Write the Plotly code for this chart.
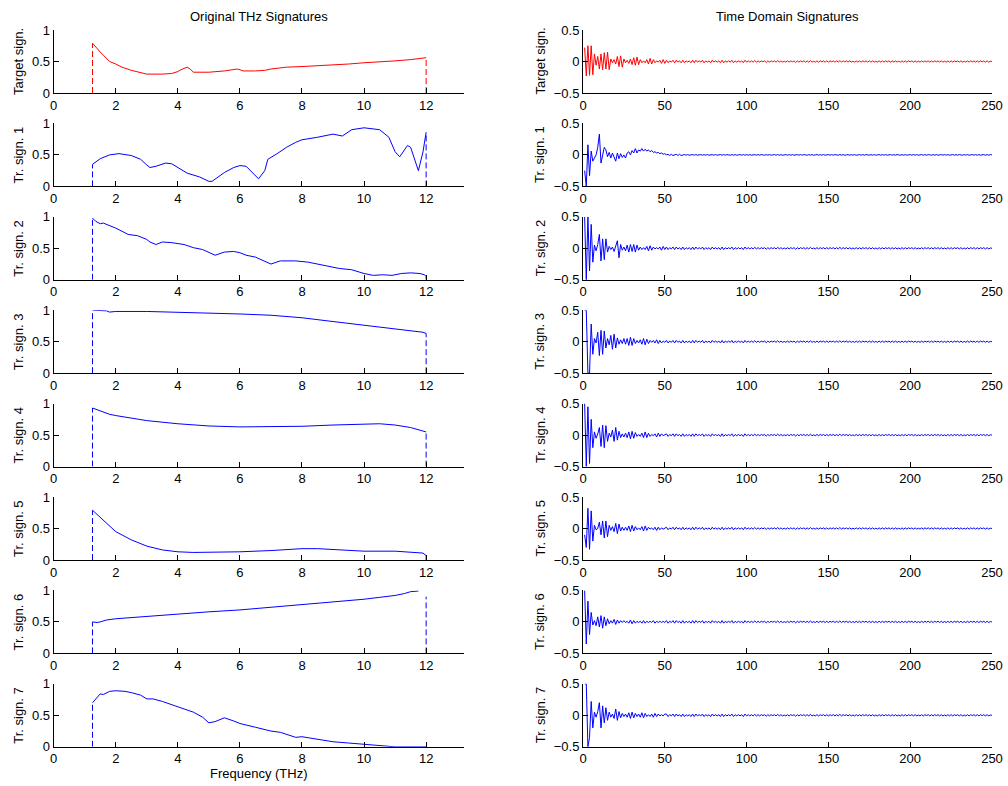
import plotly.graph_objects as go

FONT = "Liberation Sans, Arial, Helvetica, sans-serif"
W, H = 1008, 786

ROW_LABELS = ["Target sign.", "Tr. sign. 1", "Tr. sign. 2", "Tr. sign. 3",
              "Tr. sign. 4", "Tr. sign. 5", "Tr. sign. 6", "Tr. sign. 7"]
COLORS = ["#ff0000"] + ["#0000ff"] * 7

# ---------------- frequency-domain signatures (THz, normalised) ----------------
F0_X = [1.25, 1.4, 1.5, 1.6, 1.8, 2.0, 2.2, 2.5, 2.8, 3.0, 3.5, 3.8, 4.0, 4.1, 4.3, 4.4, 4.5, 4.7, 5.0,
        5.5, 5.9, 6.0, 6.1, 6.5, 6.8, 7.0, 7.5, 8.0, 8.5, 9.0, 9.5, 10.0, 10.5, 11.0, 11.5, 11.8, 12.0]
F0_Y = [0.79, 0.70, 0.65, 0.60, 0.50, 0.46, 0.41, 0.36, 0.32, 0.30, 0.30, 0.31, 0.34, 0.37, 0.41, 0.38, 0.33, 0.33, 0.33,
        0.35, 0.38, 0.37, 0.35, 0.35, 0.36, 0.38, 0.41, 0.42, 0.43, 0.45, 0.46, 0.48, 0.49, 0.51, 0.53, 0.55, 0.56]

F1_X = [1.25, 1.5, 1.8, 2.1, 2.5, 2.8, 3.0, 3.1, 3.3, 3.6, 3.8, 4.0, 4.3, 4.7, 5.0, 5.1, 5.5, 5.8, 6.0, 6.2,
        6.4, 6.6, 6.8, 6.9, 7.2, 7.5, 7.8, 8.0, 8.5, 9.0, 9.3, 9.6, 10.0, 10.5, 10.8, 11.0, 11.15, 11.4, 11.5,
        11.7, 11.75, 11.9, 12.0]
F1_Y = [0.35, 0.44, 0.50, 0.52, 0.49, 0.43, 0.34, 0.30, 0.32, 0.37, 0.36, 0.30, 0.21, 0.15, 0.08, 0.08, 0.22, 0.30, 0.33, 0.32,
        0.22, 0.12, 0.25, 0.43, 0.52, 0.62, 0.70, 0.74, 0.78, 0.83, 0.80, 0.90, 0.93, 0.90, 0.78, 0.55, 0.47, 0.65, 0.62,
        0.30, 0.25, 0.55, 0.86]

F2_X = [1.25, 1.35, 1.5, 1.6, 2.0, 2.4, 2.7, 3.0, 3.1, 3.3, 3.5, 3.8, 4.2, 4.5, 4.8, 5.0, 5.2, 5.5, 5.8, 6.0,
        6.2, 6.5, 6.8, 7.0, 7.3, 7.8, 8.2, 8.8, 9.2, 9.6, 10.0, 10.3, 10.6, 10.9, 11.2, 11.5, 11.8, 11.95, 12.0]
F2_Y = [0.98, 0.93, 0.89, 0.90, 0.82, 0.72, 0.70, 0.64, 0.60, 0.56, 0.60, 0.59, 0.56, 0.51, 0.48, 0.44, 0.39, 0.44, 0.45, 0.43,
        0.39, 0.36, 0.30, 0.25, 0.30, 0.30, 0.28, 0.22, 0.18, 0.16, 0.10, 0.07, 0.08, 0.07, 0.10, 0.11, 0.10, 0.08, 0.05]

F3_X = [1.25, 1.5, 1.7, 1.8, 2.0, 3.0, 4.0, 5.0, 6.0, 7.0, 8.0, 9.0, 10.0, 11.0, 11.5, 11.9, 12.0]
F3_Y = [1.00, 1.00, 0.99, 0.97, 0.98, 0.98, 0.97, 0.96, 0.94, 0.92, 0.88, 0.82, 0.76, 0.70, 0.67, 0.65, 0.63]

F4_X = [1.25, 1.5, 1.8, 2.0, 3.0, 4.0, 5.0, 6.0, 7.0, 8.0, 9.0, 10.0, 10.5, 11.0, 11.5, 12.0]
F4_Y = [0.93, 0.88, 0.83, 0.81, 0.73, 0.68, 0.645, 0.63, 0.63, 0.64, 0.66, 0.68, 0.68, 0.66, 0.62, 0.55]

F5_X = [1.25, 1.5, 1.8, 2.0, 2.5, 3.0, 3.5, 4.0, 4.5, 5.0, 6.0, 7.0, 8.0, 8.5, 9.0, 10.0, 11.0, 11.5, 11.9, 12.0]
F5_Y = [0.79, 0.68, 0.54, 0.45, 0.32, 0.22, 0.16, 0.13, 0.12, 0.12, 0.13, 0.15, 0.18, 0.18, 0.17, 0.14, 0.14, 0.12, 0.11, 0.07]

F6_X = [1.25, 1.4, 1.5, 1.7, 2.0, 3.0, 4.0, 5.0, 6.0, 7.0, 8.0, 9.0, 10.0, 10.5, 11.0, 11.3, 11.5, 11.75]
F6_Y = [0.50, 0.49, 0.50, 0.53, 0.55, 0.59, 0.63, 0.66, 0.69, 0.73, 0.77, 0.81, 0.86, 0.89, 0.92, 0.95, 0.98, 0.99]

F7_X = [1.25, 1.4, 1.5, 1.6, 1.8, 2.0, 2.3, 2.5, 2.8, 3.0, 3.2, 3.5, 4.0, 4.5, 4.8, 5.0, 5.2, 5.5, 5.8, 6.0,
        6.5, 7.0, 7.3, 7.5, 7.8, 8.0, 8.5, 9.0, 9.5, 10.0, 10.5, 11.0, 11.5, 12.0]
F7_Y = [0.70, 0.78, 0.84, 0.83, 0.88, 0.89, 0.88, 0.86, 0.82, 0.76, 0.76, 0.72, 0.64, 0.55, 0.47, 0.38, 0.40, 0.46, 0.41, 0.37,
        0.31, 0.25, 0.23, 0.20, 0.15, 0.16, 0.12, 0.08, 0.06, 0.04, 0.02, 0.00, 0.00, 0.00]

FREQ_SERIES = [(F0_X, F0_Y), (F1_X, F1_Y), (F2_X, F2_Y), (F3_X, F3_Y),
               (F4_X, F4_Y), (F5_X, F5_Y), (F6_X, F6_Y), (F7_X, F7_Y)]

# band limits (dashed markers) and their heights
BAND_LO, BAND_HI = 1.25, 12.0
EDGE_LO = [0.79, 0.35, 0.98, 1.00, 0.93, 0.79, 0.50, 0.70]
EDGE_HI = [0.56, 0.86, 0.05, 0.63, 0.55, 0.07, 0.90, 0.00]

FREQ_TICKS = [0, 2, 4, 6, 8, 10, 12]
FREQ_RANGE = [0, 13.22]

# ---------------- time-domain signatures (samples 1..50 read, then tails) ----------------
T0_HEAD = [.22, -.23, .25, -.22, .25, -.21, .12, -.06, .08, -.12, .12, -.13, .14, -.12, .15, -.13, .04, -.02, .03, -.04,
           .08, -.08, .09, -.09, .04, -.02, .02, -.03, .04, -.05, .06, -.06, .07, -.05, .03, -.02, .01, -.02, .03, -.04,
           .05, -.04, .03, -.02, .01, -.01, .02, -.03, .03, -.03]
T1_HEAD = [-.25, -.5, .16, -.33, .06, -.1, -.05, .0, .12, .33, -.13, .02, .12, .08, -.03, .04, -.05, .03, -.05, -.1,
           .03, -.06, .02, -.04, .0, -.05, .03, .05, .0, .07, .03, .1, .03, .08, .06, .1, .06, .09, .06, .08,
           .05, .07, .04, .05, .03, .04, .02, .03, .01, .02]
T2_HEAD = [.5, -.5, .5, -.36, .38, -.22, .05, -.04, .06, .22, -.2, .15, -.18, .15, -.06, .03, -.02, .02, -.05, .06,
           .12, -.15, .06, -.03, .02, -.04, .05, -.06, .06, -.05, .06, -.06, .05, -.03, .02, -.02, .01, -.02, .03, -.04,
           .04, -.03, .02, -.01, .01, -.01, .02, -.03, .03, -.02]
T3_HEAD = [.5, .5, -.5, -.5, .28, -.2, .05, -.02, .15, -.22, .18, -.2, .17, -.1, .05, -.05, .1, -.12, .12, -.1,
           .06, -.04, .03, -.03, .05, -.04, .05, -.06, .07, -.06, .05, -.03, .02, -.02, .03, -.04, .05, -.05, .04, -.03,
           .02, -.01, .02, -.02, .03, -.03, .02, -.02, .01, -.01]
T4_HEAD = [.5, -.5, .45, -.45, .25, -.2, .05, -.05, .02, .12, -.18, .16, -.2, .15, -.1, .03, -.03, .08, -.1, .12,
           -.08, .06, -.04, .02, -.03, .03, -.04, .05, -.06, .06, -.05, .04, -.02, .01, -.02, .03, -.04, .05, -.04, .03,
           -.02, .01, -.01, .02, -.03, .03, -.02, .02, -.01, .01]
T5_HEAD = [-.1, -.3, .32, -.33, .28, -.2, .05, -.02, .0, .1, -.1, .12, -.15, .12, -.13, .05, -.03, .03, -.05, .08,
           -.08, .07, -.04, .02, -.03, .02, -.03, .04, -.05, .05, -.04, .03, -.02, .01, -.02, .03, -.04, .04, -.03, .02,
           -.01, .01, -.02, .02, -.03, .02, -.02, .01, -.01, .01]
T6_HEAD = [.5, -.35, .33, -.2, .15, -.05, .02, -.06, .08, -.08, .1, -.1, .08, -.06, .05, -.03, .02, -.02, .04, -.04,
           .03, -.02, .02, -.01, .02, -.01, .01, -.02, .03, -.03, .02, -.02, .01, -.01, .01, -.02, .02, -.02, .01, -.01,
           .01, -.01, .02, -.02, .01, -.01, .01, -.01, .01, -.01]
T7_HEAD = [.5, .5, -.5, -.35, .22, -.2, .05, -.03, .06, .2, -.2, .15, -.12, .12, -.08, .05, -.03, .02, -.05, .1,
           -.08, .06, -.04, .03, -.02, .02, -.03, .04, -.05, .05, -.04, .03, -.02, .02, -.03, .04, -.04, .03, -.02, .01,
           -.02, .02, -.03, .03, -.02, .02, -.01, .01, -.01, .02]

# residual ripple, samples 51..250
TAIL_RIPPLE = [
    .02, -.02, .01, -.01, .02, -.02, .02, -.01, .01, -.02, .02, -.02, .01, -.01, .01, -.02, .02, -.02, .02, -.01, .01, -.01, .02, -.02, .01,
    -.01, .01, -.02, .02, -.01, .01, -.01, .01, -.02, .02, -.02, .01, -.01, .01, -.01, .02, -.02, .01, -.01, .01, -.01, .01, -.02, .02, -.01,
    .01, -.01, .01, -.01, .015, -.01, .01, -.01, .01, -.005, .01, -.015, .01, -.01, .01, -.005, .01, -.01, .015, -.01, .01, -.01, .005, -.01, .01,
    -.01, .01, -.005, .01, -.015, .01, -.01, .01, -.005, .01, -.01, .01, -.01, .015, -.01, .005, -.01, .01, -.01, .01, -.005, .01, -.01, .01, -.01,
    .01, -.005, .01, -.01, .01, -.01, .015, -.01, .01, -.005, .01, -.01, .01, -.01, .005, -.01, .01, -.01, .01, -.01, .01, -.005, .01, -.01, .01,
    -.01, .01, -.01, .005, -.01, .01, -.01, .01, -.01, .01, -.005, .01, -.01, .01, -.01, .01, -.01, .005, -.01, .01, -.01, .01, -.01, .01, -.005,
    .01, -.01, .01, -.01, .005, -.01, .01, -.01, .01, -.005, .01, -.01, .01, -.01, .01, -.005, .01, -.01, .01, -.01, .005, -.01, .01, -.01, .01,
    -.01, .01, -.005, .01, -.01, .01, -.01, .005, -.01, .01, -.01, .01, -.005, .01, -.01, .01, -.01, .01, -.005, .01, -.01, .01, -.01, .005, 0]
TAIL_FLAT = [
    .0, .01, -.01, .01, -.01, .0, .01, -.01, .01, -.01, .0, .005, -.005, .005, -.005, .0, .005, -.005, .005, -.005, .0, .005, -.005, .005, -.005,
    .005, -.005, .0, .005, -.005, .005, -.005, .0, .005, -.005, .005, -.005, .005, .0, -.005, .005, -.005, .005, -.005, .0, .005, -.005, .005, -.005, .005,
    -.005, .005, -.005, .0, .005, -.005, .005, -.005, .005, .0, -.005, .005, -.005, .005, -.005, .0, .005, -.005, .005, -.005, .005, -.005, .0, .005, -.005,
    .005, -.005, .005, -.005, .0, .005, -.005, .005, -.005, .005, .0, -.005, .005, -.005, .005, -.005, .0, .005, -.005, .005, -.005, .005, -.005, .0, .005,
    -.005, .005, -.005, .005, .0, -.005, .005, -.005, .005, -.005, .0, .005, -.005, .005, -.005, .005, -.005, .0, .005, -.005, .005, -.005, .005, .0, -.005,
    .005, -.005, .005, -.005, .0, .005, -.005, .005, -.005, .005, -.005, .0, .005, -.005, .005, -.005, .005, .0, -.005, .005, -.005, .005, -.005, .0, .005,
    -.005, .005, -.005, .005, -.005, .0, .005, -.005, .005, -.005, .005, .0, -.005, .005, -.005, .005, -.005, .0, .005, -.005, .005, -.005, .005, -.005, .0,
    .005, -.005, .005, -.005, .005, .0, -.005, .005, -.005, .005, -.005, .0, .005, -.005, .005, -.005, .005, -.005, .0, .005, -.005, .005, -.005, .005, 0]

TIME_SERIES = [T0_HEAD + TAIL_RIPPLE, T1_HEAD + TAIL_FLAT, T2_HEAD + TAIL_RIPPLE, T3_HEAD + TAIL_RIPPLE,
               T4_HEAD + TAIL_RIPPLE, T5_HEAD + TAIL_RIPPLE, T6_HEAD + TAIL_RIPPLE, T7_HEAD + TAIL_RIPPLE]
TIME_TICKS = [0, 50, 100, 150, 200, 250]
TIME_RANGE = [0, 250]

# ---------------- layout geometry (pixels) ----------------
L_X0, L_X1 = 53.7, 464.0
R_X0, R_X1 = 583.0, 992.0
ROW_TOP0, ROW_PITCH, ROW_H = 30.0, 93.4, 63.0


def px_x(p):
    return p / W


def px_y(p):
    return 1 - p / H


fig = go.Figure()
layout = dict(width=W, height=H, autosize=False, margin=dict(l=0, r=0, t=0, b=0, pad=0, autoexpand=False),
              paper_bgcolor="white", plot_bgcolor="white", showlegend=False,
              font=dict(family=FONT, size=13, color="black"))

axis_common = dict(showline=True, linecolor="black", linewidth=1, ticks="inside", ticklen=5,
                   tickcolor="black", tickwidth=1, showgrid=False, zeroline=False, mirror=False,
                   automargin=False,
                   tickfont=dict(family=FONT, size=13, color="black"), fixedrange=True)

annotations = []
DASH = "6px,3px"

for i in range(8):
    top = ROW_TOP0 + i * ROW_PITCH
    ydom = [px_y(top + ROW_H), px_y(top)]
    kl, kr = 2 * i + 1, 2 * i + 2
    xl, yl = f"x{kl}", f"y{kl}"
    xr, yr = f"x{kr}", f"y{kr}"

    # left: frequency signature
    fx, fy = FREQ_SERIES[i]
    fig.add_trace(go.Scatter(x=fx, y=fy, mode="lines", line=dict(color=COLORS[i], width=1),
                             xaxis=xl, yaxis=yl, hoverinfo="skip"))
    fig.add_trace(go.Scatter(x=[BAND_LO, BAND_LO], y=[0, EDGE_LO[i]], mode="lines",
                             line=dict(color=COLORS[i], width=1, dash=DASH), xaxis=xl, yaxis=yl,
                             hoverinfo="skip"))
    fig.add_trace(go.Scatter(x=[BAND_HI, BAND_HI], y=[0, EDGE_HI[i]], mode="lines",
                             line=dict(color=COLORS[i], width=1, dash=DASH), xaxis=xl, yaxis=yl,
                             hoverinfo="skip"))

    # right: time-domain signature
    ts = TIME_SERIES[i]
    fig.add_trace(go.Scatter(x=list(range(1, len(ts) + 1)), y=ts, mode="lines",
                             line=dict(color=COLORS[i], width=1), xaxis=xr, yaxis=yr, hoverinfo="skip"))

    layout[f"xaxis{kl}"] = dict(axis_common, domain=[px_x(L_X0), px_x(L_X1)], range=FREQ_RANGE,
                                tickvals=FREQ_TICKS, anchor=yl)
    layout[f"yaxis{kl}"] = dict(axis_common, domain=ydom, range=[0, 1], tickvals=[0, 0.5, 1], anchor=xl)
    layout[f"xaxis{kr}"] = dict(axis_common, domain=[px_x(R_X0), px_x(R_X1)], range=TIME_RANGE,
                                tickvals=TIME_TICKS, anchor=yr)
    layout[f"yaxis{kr}"] = dict(axis_common, domain=ydom, range=[-0.5, 0.5], tickvals=[-0.5, 0, 0.5], anchor=xr)

    yc = px_y(top + ROW_H / 2)
    for xc in (18.5, 540.0):
        annotations.append(dict(text=ROW_LABELS[i], x=px_x(xc), y=yc, xref="paper", yref="paper",
                                textangle=-90, showarrow=False, xanchor="center", yanchor="middle",
                                font=dict(family=FONT, size=13, color="black")))

annotations.append(dict(text="Original THz Signatures", x=px_x((L_X0 + L_X1) / 2), y=px_y(16.5),
                        xref="paper", yref="paper", showarrow=False, xanchor="center", yanchor="middle",
                        font=dict(family=FONT, size=13, color="black")))
annotations.append(dict(text="Time Domain Signatures", x=px_x((R_X0 + R_X1) / 2), y=px_y(16.5),
                        xref="paper", yref="paper", showarrow=False, xanchor="center", yanchor="middle",
                        font=dict(family=FONT, size=13, color="black")))
annotations.append(dict(text="Frequency (THz)", x=px_x((L_X0 + L_X1) / 2), y=px_y(773),
                        xref="paper", yref="paper", showarrow=False, xanchor="center", yanchor="middle",
                        font=dict(family=FONT, size=13, color="black")))

layout["annotations"] = annotations
fig.update_layout(**layout)
fig.write_html("out.html", config={"responsive": False, "displayModeBar": False},
               post_script="document.body.style.margin='0';document.body.style.overflow='hidden';")
